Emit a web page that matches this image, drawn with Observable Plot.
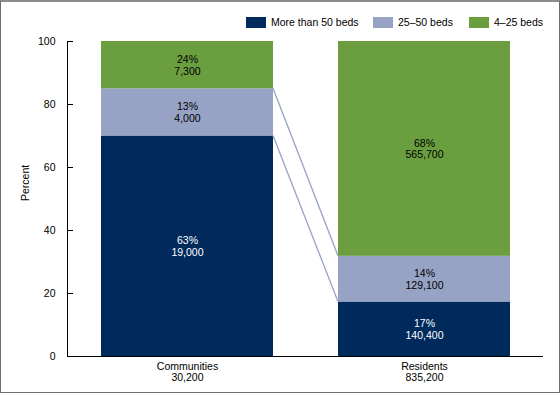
<!DOCTYPE html>
<html><head><meta charset="utf-8">
<script src="https://cdn.jsdelivr.net/npm/d3@7"></script>
<script src="https://cdn.jsdelivr.net/npm/@observablehq/plot@0.6"></script>
<style>
body{margin:0;background:#fff;font-family:"Liberation Sans",Arial,sans-serif;}
#wrap{position:relative;width:560px;height:395px;overflow:hidden}
#border{position:absolute;left:0;top:0;width:560px;height:393px;box-sizing:border-box;border:1px solid #6d6d6d;border-top:2px solid #8a8a8a;pointer-events:none}
.leg{position:absolute;top:16px;display:flex;align-items:center;font-size:10.5px;color:#000;line-height:12px;white-space:nowrap}
.sw{width:20px;height:11px;margin-right:5px}
</style></head><body><div id="wrap"></div>
<script>
const categories = ["Communities", "Residents"];
const totals = ["30,200", "835,200"];
const groups = ["More than 50 beds", "25–50 beds", "4–25 beds"];
const colors = ["#002a5c", "#97a3c5", "#6b9e3f"];
const communitiesShare = [70, 15, 15];
const residentsShare = [17.3, 14.5, 68.2];
const communitiesPct = ["63%", "13%", "24%"];
const residentsPct = ["17%", "14%", "68%"];
const communitiesCount = ["19,000", "4,000", "7,300"];
const residentsCount = ["140,400", "129,100", "565,700"];
const yTicks = [0, 20, 40, 60, 80, 100];

const shares = [communitiesShare, residentsShare];
const pcts = [communitiesPct, residentsPct];
const counts = [communitiesCount, residentsCount];
const data = [];
categories.forEach((c, i) => groups.forEach((g, j) => data.push({
  category: c, group: g, share: shares[i][j], pct: pcts[i][j], count: counts[i][j]
})));

const plot = Plot.plot({
  width: 560, height: 395,
  marginTop: 41, marginBottom: 39, marginLeft: 67, marginRight: 17,
  style: {fontFamily: "'Liberation Sans', Arial, sans-serif", fontSize: "10.5px", color: "#000", background: "transparent"},
  x: {domain: categories, paddingInner: 0.276, paddingOuter: 0.14, label: null, axis: null},
  y: {domain: [0, 100], label: null, axis: null},
  color: {domain: groups, range: colors},
  marks: [
    Plot.barY(data, {x: "category", y: "share", fill: "group"}),
    Plot.text(data, Plot.stackY({x: "category", y: "share", z: "group",
      text: d => d.group === groups[0] ? `${d.pct}\n${d.count}` : null,
      fill: "white", lineHeight: 1.1})),
    Plot.text(data, Plot.stackY({x: "category", y: "share", z: "group",
      text: d => d.group !== groups[0] ? `${d.pct}\n${d.count}` : null,
      fill: "black", lineHeight: 1.1})),
    Plot.axisY({ticks: yTicks, tickSize: -6, tickPadding: 18, label: null}),
    Plot.axisX({tickSize: 0, tickPadding: 5, lineHeight: 1.1, label: null,
      tickFormat: d => `${d}\n${totals[categories.indexOf(d)]}`}),
    Plot.ruleY([0], {stroke: "black"}),
    Plot.frame({anchor: "left", stroke: "black"}),
    Plot.text(["Percent"], {frameAnchor: "left", rotate: -90, dx: -42, dy: 2, text: d => d})
  ]
});

// connector lines between stacked segment tops, via the plot's scales
const xs = plot.scale("x"), ys = plot.scale("y");
const cTop = d3.cumsum(communitiesShare), rTop = d3.cumsum(residentsShare);
const g = d3.select(plot).append("g").attr("stroke", colors[1]).attr("stroke-width", 1.3).attr("fill", "none");
[0, 1].forEach(k => {
  g.append("line")
    .attr("x1", xs.apply(categories[0]) + xs.bandwidth)
    .attr("y1", ys.apply(cTop[k]))
    .attr("x2", xs.apply(categories[1]))
    .attr("y2", ys.apply(rTop[k]));
});

const wrap = document.getElementById("wrap");
wrap.appendChild(plot);
const legLeft = [246, 373, 469];
groups.forEach((gname, i) => {
  const d = document.createElement("div");
  d.className = "leg";
  d.style.left = legLeft[i] + "px";
  d.innerHTML = `<span class="sw" style="background:${colors[i]}"></span><span>${gname}</span>`;
  wrap.appendChild(d);
});
const b = document.createElement("div");
b.id = "border";
wrap.appendChild(b);
</script></body></html>
